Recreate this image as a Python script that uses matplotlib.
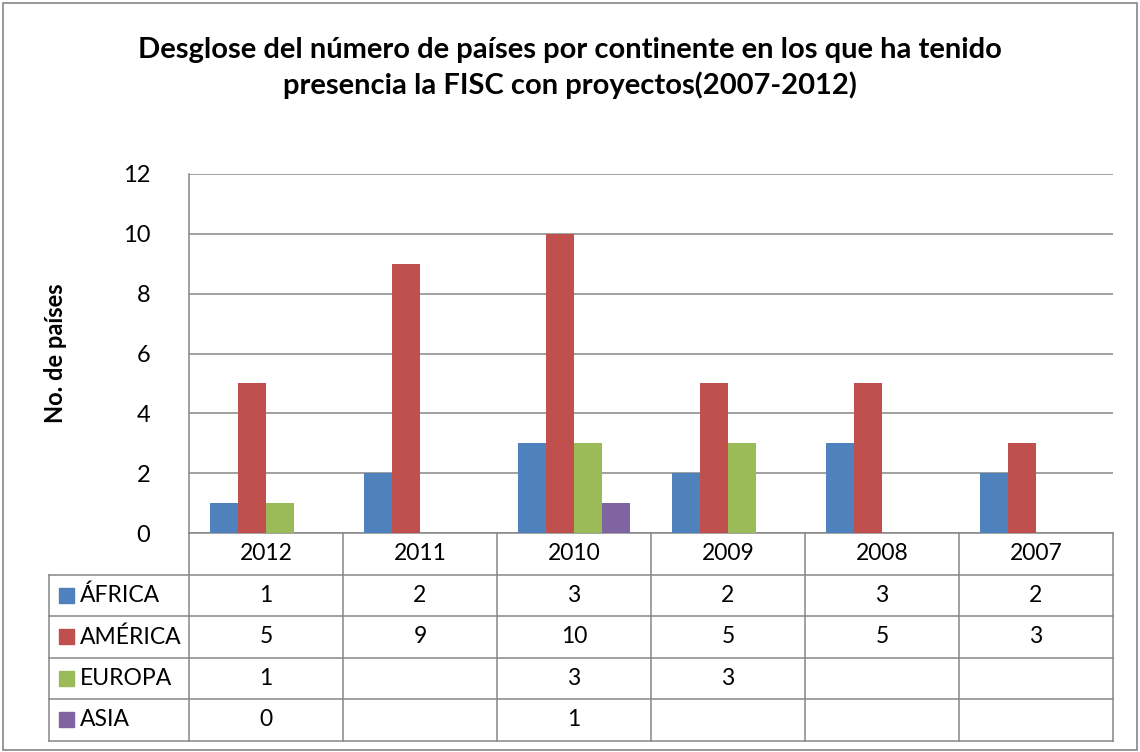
import matplotlib
matplotlib.use("Agg")
import matplotlib.pyplot as plt
import numpy as np
from matplotlib.patches import Rectangle
from matplotlib.lines import Line2D
import matplotlib.transforms as mtransforms

plt.rcParams['font.family'] = ['Lato', 'DejaVu Sans']

years = ['2012', '2011', '2010', '2009', '2008', '2007']
series_names = ['ÁFRICA', 'AMÉRICA', 'EUROPA', 'ASIA']
africa = [1, 2, 3, 2, 3, 2]
america = [5, 9, 10, 5, 5, 3]
europa = [1, None, 3, 3, None, None]
asia = [0, None, 1, None, None, None]
series_values = [africa, america, europa, asia]
colors = ['#4F81BD', '#C0504D', '#9BBB59', '#8064A2']
yticks = [0, 2, 4, 6, 8, 10, 12]

W, H = 1140, 752
fig = plt.figure(figsize=(W / 100, H / 100), dpi=100)

# outer chart border
fig.patches.append(Rectangle((3 / W, 2 / H), 1134 / W, 747 / H, transform=fig.transFigure,
                             fill=False, edgecolor='#868686', linewidth=1.2))

ax_l, ax_r, ax_t, ax_b = 189, 1113, 174, 533
ax = fig.add_axes([ax_l / W, 1 - ax_b / H, (ax_r - ax_l) / W, (ax_b - ax_t) / H])

n = len(years)
x = np.arange(n)
bw = 0.182
for i, (vals, c) in enumerate(zip(series_values, colors)):
    offs = (i - 1.5) * bw
    for j, v in enumerate(vals):
        if v is None:
            continue
        ax.bar(x[j] + offs, v, width=bw, color=c, edgecolor='none', zorder=3)

ax.set_xlim(-0.5, n - 0.5)
ax.set_ylim(0, 12)
ax.set_yticks(yticks)
ax.set_yticklabels([str(t) for t in yticks], fontsize=17)
ax.tick_params(axis='y', length=0, pad=28)
ax.set_xticks([])
ax.grid(axis='y', color='#868686', linewidth=1.1, zorder=0)
for s in ['top', 'right']:
    ax.spines[s].set_visible(False)
ax.spines['left'].set_color('#868686')
ax.spines['left'].set_linewidth(1.1)
ax.spines['bottom'].set_color('#868686')
ax.spines['bottom'].set_linewidth(1.1)

ax.set_ylabel('No. de países', fontsize=17, fontweight='bold', labelpad=40)

# data table below the axes
axh = ax_b - ax_t
row_h = 41.5 / axh
left_col = -(ax_l - 49) / (ax_r - ax_l)
trans = mtransforms.blended_transform_factory(ax.transData, ax.transAxes)
lc = '#868686'
lw = 1.1
fs = 16.5

for k in range(n + 1):
    ax.add_line(Line2D([k - 0.5, k - 0.5], [0, -row_h * 5], transform=trans, color=lc,
                       linewidth=lw, clip_on=False))
for j, yr in enumerate(years):
    ax.text(j, -row_h * 0.5, yr, transform=trans, ha='center', va='center', fontsize=fs)

for r in range(1, 6):
    yy = -row_h * r
    ax.add_line(Line2D([left_col, 1], [yy, yy], transform=ax.transAxes, color=lc,
                       linewidth=lw, clip_on=False))
ax.add_line(Line2D([left_col, left_col], [-row_h, -row_h * 5], transform=ax.transAxes,
                   color=lc, linewidth=lw, clip_on=False))

sq_w = 15 / (ax_r - ax_l)
sq_h = 15 / axh
for i, (name, vals, c) in enumerate(zip(series_names, series_values, colors)):
    yc = -row_h * (i + 1.5)
    ax.add_patch(Rectangle((left_col + 10 / (ax_r - ax_l), yc - sq_h / 2), sq_w, sq_h,
                           transform=ax.transAxes, color=c, clip_on=False))
    ax.text(left_col + 31 / (ax_r - ax_l), yc, name, transform=ax.transAxes,
            ha='left', va='center', fontsize=fs)
    for j, v in enumerate(vals):
        if v is None:
            continue
        ax.text(j, yc, str(v), transform=trans, ha='center', va='center', fontsize=fs)

fig.text(0.5, 1 - 68 / H,
         'Desglose del número de países por continente en los que ha tenido\npresencia la FISC con proyectos(2007-2012)',
         ha='center', va='center', fontsize=21, fontweight='bold', linespacing=1.35)

fig.savefig('out.png', dpi=100)
